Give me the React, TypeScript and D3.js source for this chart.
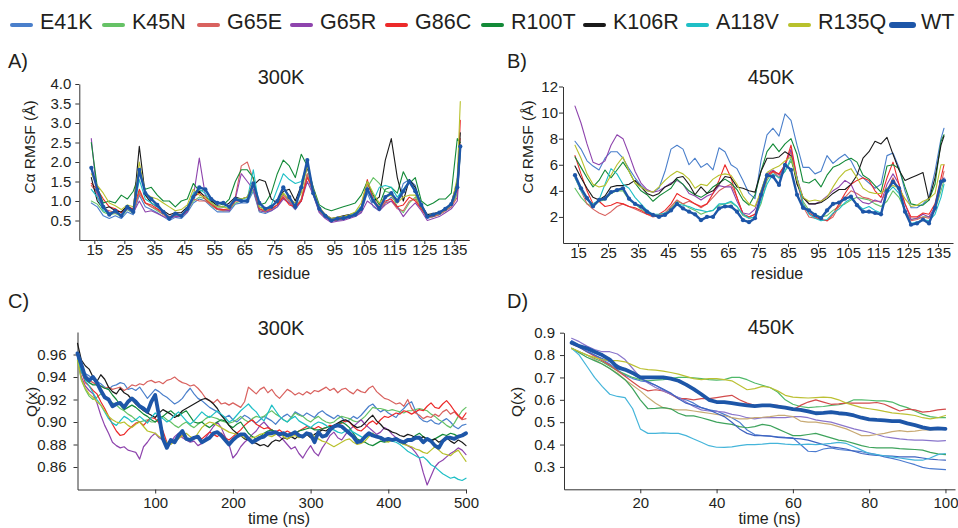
import React, { useEffect, useRef } from "react";
import * as d3 from "d3";

const FONT = '"Liberation Sans", Arial, Helvetica, sans-serif';
const INK = "#231f20";

// ---- series names and colours ----
const SERIES = ["E41K", "K45N", "G65E", "G65R", "G86C", "R100T", "K106R", "A118V", "R135Q", "WT"];
const COLORS = ["#4a7fcb", "#66c266", "#d9625f", "#8e44ad", "#ec2a2a", "#138a38", "#1a1a1a", "#1fbfc6", "#b8c12c", "#1d56a8"];
const COLORS_Q450 = ["#4b7bd0", "#4fb96a", "#d24b4b", "#8a76cc", "#c8aa74", "#3ea35c", "#3f63c0", "#45b5da", "#bcc033", "#1d56a8"];

// legend swatch left edges
const LEGEND_X = [10, 102, 197, 290, 385, 481, 583, 686, 788, 890];

// ---- sampling grids ----
const RESIDUES = [...d3.range(14, 137, 2), 137];
const TIME_300 = d3.range(0, 501, 5);
const TIME_450 = d3.range(2, 101, 2);

// ---- tick values ----
const RES_TICKS = [15, 25, 35, 45, 55, 65, 75, 85, 95, 105, 115, 125, 135];
const RMSF300_TICKS = [0.5, 1, 1.5, 2, 2.5, 3, 3.5, 4];
const RMSF450_TICKS = [2, 4, 6, 8, 10, 12];
const Q300_TICKS = [0.86, 0.88, 0.9, 0.92, 0.94, 0.96];
const T300_TICKS = [100, 200, 300, 400, 500];
const Q450_TICKS = [0.3, 0.4, 0.5, 0.6, 0.7, 0.8, 0.9];
const T450_TICKS = [20, 40, 60, 80, 100];

// ---- Cα RMSF at 300K (Å), per residue ----
const RMSF300_E41K = [0.95,0.85,0.62,0.55,0.62,0.55,0.72,0.65,1.15,0.85, 0.78,0.7,0.6,0.5,0.58,0.55,0.7,0.95,1.05,1.0, 0.85,0.72,0.72,0.72,0.92,0.95,0.95,1.25,0.72,0.68, 0.75,0.85,1.1,0.95,0.78,1.0,1.65,1.15,0.72,0.58, 0.48,0.5,0.52,0.58,0.62,0.72,1.2,0.85,0.75,0.95, 1.1,0.95,1.45,1.55,1.4,0.85,0.55,0.6,0.65,0.75, 0.85,1.2,2.3];
const RMSF300_K45N = [1.0,0.92,0.72,0.65,0.68,0.6,0.78,0.68,1.25,0.95, 0.85,0.75,0.65,0.55,0.62,0.6,0.75,1.0,1.1,1.05, 0.88,0.78,0.75,0.78,0.95,1.0,1.0,1.3,0.75,0.72, 0.78,0.9,1.2,1.0,0.85,1.05,1.7,1.2,0.75,0.6, 0.5,0.52,0.55,0.6,0.65,0.8,1.35,1.6,1.45,1.25, 1.2,0.85,0.7,0.95,1.1,0.8,0.58,0.6,0.65,0.75, 0.85,1.2,2.2];
const RMSF300_G65E = [1.4,1.2,0.8,0.75,0.7,0.65,0.8,0.72,1.2,0.95, 0.85,0.78,0.65,0.55,0.62,0.6,0.75,1.05,1.0,1.0, 0.9,0.78,0.75,0.75,1.1,1.9,2.0,1.55,0.8,0.72, 0.78,0.9,1.15,1.0,0.8,1.05,1.7,1.2,0.75,0.6, 0.5,0.52,0.55,0.6,0.65,0.75,1.45,1.1,0.8,0.95, 1.0,0.8,0.75,1.0,1.05,0.8,0.58,0.6,0.65,0.75, 0.85,1.1,2.6];
const RMSF300_G65R = [2.6,1.1,0.85,0.7,0.7,0.65,0.8,0.7,1.0,0.72, 0.75,0.68,0.6,0.55,0.6,0.6,0.72,1.1,2.1,1.15, 0.95,0.8,0.78,0.75,1.05,1.7,1.5,1.3,0.75,0.72, 0.75,0.85,1.05,0.95,0.8,1.0,1.5,1.15,0.7,0.55, 0.45,0.48,0.5,0.55,0.6,0.7,1.0,0.88,0.75,0.9, 1.0,0.85,0.6,0.8,0.95,0.75,0.5,0.55,0.6,0.7, 0.8,1.0,2.3];
const RMSF300_G86C = [1.45,1.3,1.05,0.85,0.8,0.7,0.85,0.8,1.3,0.95, 0.9,0.8,0.7,0.6,0.65,0.62,0.78,1.1,1.2,1.05, 0.92,0.8,0.78,0.8,1.0,1.0,1.0,1.45,0.8,0.75, 0.8,0.9,1.1,0.9,0.85,1.0,1.6,1.3,0.78,0.6, 0.5,0.52,0.55,0.6,0.65,0.85,1.55,1.0,0.85,1.0, 1.05,0.85,0.9,1.1,1.0,0.8,0.6,0.62,0.7,0.8, 0.9,1.3,3.07];
const RMSF300_R100T = [2.5,1.35,0.95,1.0,0.95,1.15,1.05,1.25,1.7,1.3, 1.35,1.15,1.0,1.0,0.85,1.0,1.05,1.45,1.25,1.3, 1.0,0.95,0.9,1.05,1.5,1.8,1.8,1.6,0.9,0.95, 1.2,1.7,2.05,1.9,1.6,2.2,1.9,1.35,0.9,0.8, 0.75,0.8,0.85,0.9,0.95,1.15,1.5,1.15,0.9,1.3, 1.35,1.2,1.75,1.45,1.6,1.0,0.88,0.95,1.05,1.05, 1.2,2.6,2.5];
const RMSF300_K106R = [1.6,1.0,0.8,0.85,0.75,0.72,0.88,0.75,2.4,1.15, 0.95,0.85,0.75,0.65,0.7,0.7,0.85,1.1,1.25,1.1, 1.0,0.88,0.85,0.95,1.1,1.05,1.1,1.4,1.55,1.5, 1.05,0.95,1.25,1.3,1.0,1.4,1.85,1.3,0.8,0.65, 0.55,0.58,0.62,0.65,0.7,0.85,1.3,1.0,1.1,2.05, 2.6,1.6,1.0,1.55,1.35,0.9,0.65,0.68,0.72,0.8, 0.95,1.5,2.75];
const RMSF300_A118V = [1.3,1.1,0.75,0.7,0.72,0.62,0.82,0.7,1.55,1.05, 0.95,0.85,0.72,0.58,0.65,0.62,0.8,1.2,1.3,1.2, 0.95,0.85,0.85,0.85,1.05,1.05,1.05,1.8,0.85,0.8, 0.9,1.3,1.7,1.55,1.45,1.5,1.95,1.2,0.78,0.6, 0.5,0.55,0.58,0.62,0.7,0.85,1.35,1.0,1.35,1.4, 1.35,1.1,1.3,1.5,1.3,0.9,0.62,0.65,0.72,0.8, 0.92,1.4,2.3];
const RMSF300_R135Q = [1.7,1.4,1.2,0.95,0.88,0.78,0.9,0.85,2.0,1.2, 1.1,1.05,0.95,0.85,0.75,0.78,0.9,1.3,1.15,1.1, 0.95,0.85,0.85,0.8,1.05,1.05,1.1,1.5,0.85,0.75, 0.85,1.0,1.2,1.05,0.95,1.2,1.9,1.3,0.85,0.65, 0.55,0.58,0.6,0.65,0.72,0.95,1.5,1.2,0.95,1.1, 1.15,0.95,1.1,1.15,1.15,0.85,0.62,0.65,0.68,0.78, 0.9,1.6,3.55];
const RMSF300_WT = [1.85,1.3,0.85,0.65,0.75,0.62,0.85,0.72,1.8,1.2, 1.05,0.9,0.72,0.55,0.68,0.62,0.8,1.1,1.35,1.3, 1.05,0.95,0.95,0.85,1.05,1.0,1.0,1.45,0.95,0.8, 0.85,1.0,1.35,1.1,0.85,1.35,2.05,1.2,0.8,0.62, 0.5,0.55,0.56,0.6,0.65,0.8,1.3,1.0,0.8,1.1, 1.2,1.0,1.25,1.5,1.25,0.9,0.6,0.65,0.7,0.8, 0.92,1.35,2.4];

// ---- Cα RMSF at 450K (Å), per residue ----
const RMSF450_E41K = [7.8,7.2,6.3,5.9,5.6,6.5,7.0,7.0,6.5,5.7, 5.0,4.4,4.0,3.9,4.2,5.5,7.2,7.5,7.2,6.0, 6.5,5.8,6.1,5.6,7.3,7.0,6.0,5.7,4.8,3.8, 3.4,6.3,8.3,8.8,8.2,9.9,9.4,7.5,5.8,5.8, 5.3,5.5,6.7,6.1,6.5,6.8,6.3,5.4,5.0,4.6, 4.2,4.5,6.7,6.9,5.8,4.0,2.7,2.7,3.0,3.5, 5.5,8.0,8.8];
const RMSF450_K45N = [4.2,3.5,3.0,2.8,3.2,3.3,3.8,4.0,4.0,3.3, 3.0,2.6,2.3,2.1,2.1,2.3,2.7,3.2,3.0,2.7, 2.5,2.2,2.4,2.5,2.9,3.0,3.1,2.8,2.1,1.9, 2.0,3.0,4.8,5.5,5.0,5.5,6.3,5.0,3.2,2.5, 2.2,2.0,2.1,2.5,2.8,3.0,3.3,3.5,3.4,3.3, 3.0,2.8,3.2,4.0,3.5,2.5,1.8,1.9,2.0,2.0, 2.5,4.0,4.8];
const RMSF450_G65E = [5.0,4.0,3.0,2.6,2.3,2.1,2.4,2.8,3.0,2.8, 2.6,2.4,2.2,2.0,2.1,2.3,2.8,3.3,3.0,3.2, 3.0,2.7,3.0,3.5,4.0,4.3,4.5,3.5,2.2,2.0, 2.2,3.5,5.0,5.5,5.0,6.0,7.0,4.8,2.8,2.0, 1.9,1.8,1.7,2.0,2.8,3.5,4.0,3.8,3.5,3.4, 3.2,3.2,4.0,5.0,4.0,2.5,1.7,1.8,2.0,1.9, 2.5,4.5,5.5];
const RMSF450_G65R = [10.5,9.2,7.6,6.2,6.0,6.3,7.5,8.3,8.0,6.8, 5.5,4.6,4.1,3.9,4.0,4.3,4.6,4.8,4.5,3.8, 3.6,3.3,3.6,3.8,4.4,4.3,4.3,3.2,2.3,2.2, 2.6,4.0,5.3,5.6,5.2,6.0,7.2,5.0,3.5,3.0, 3.0,3.2,3.6,4.0,4.3,4.8,4.5,3.5,3.1,3.0, 3.3,3.1,4.5,5.3,4.5,3.0,1.8,1.9,2.2,2.0, 2.8,4.5,5.0];
const RMSF450_G86C = [6.7,5.3,4.0,3.0,3.2,2.8,2.9,3.1,3.0,2.8, 2.7,2.5,2.2,2.1,2.2,2.5,3.0,3.8,3.5,3.3, 3.0,2.8,3.0,3.8,4.8,6.0,5.0,3.5,2.2,2.0, 2.2,3.5,5.2,5.5,5.3,6.0,7.5,5.0,3.0,2.3, 2.0,1.8,1.7,2.2,3.0,3.8,4.5,4.8,5.0,4.8, 4.0,3.5,5.0,6.2,4.5,3.0,2.0,2.0,2.3,2.2, 3.0,5.0,6.0];
const RMSF450_R100T = [6.6,5.8,5.0,4.3,4.8,5.6,5.0,5.6,6.2,5.5, 4.6,4.0,3.7,3.2,3.6,3.9,4.2,4.9,4.5,4.0, 3.7,3.5,3.8,4.3,4.6,4.9,4.6,4.1,3.3,2.9, 3.7,5.5,7.0,7.6,7.0,7.6,8.0,6.8,4.7,4.6, 4.9,4.3,5.2,5.8,6.0,6.3,6.5,6.2,5.2,4.9, 4.4,3.9,5.9,6.0,5.7,4.3,3.0,2.9,2.9,3.3, 4.5,7.8,8.3];
const RMSF450_K106R = [5.9,5.0,4.2,3.5,3.3,3.6,4.3,4.4,4.4,4.5, 4.8,4.3,3.8,3.6,3.8,4.3,4.5,5.0,5.1,4.5, 3.7,4.3,3.8,4.0,4.5,5.1,5.0,4.3,4.2,4.0, 3.9,5.5,6.5,6.5,6.6,7.0,6.7,4.5,3.5,3.0, 3.0,3.1,3.4,3.8,4.1,4.1,4.5,5.2,6.5,7.0, 7.8,7.6,8.1,6.8,5.6,4.8,5.0,5.2,5.4,3.3, 5.0,7.5,8.2];
const RMSF450_A118V = [5.0,4.0,3.3,3.0,3.3,4.5,5.7,5.3,4.5,4.2, 3.5,3.0,2.5,2.2,2.2,2.3,2.5,3.0,2.9,2.8, 2.6,2.5,2.4,2.5,3.0,3.0,3.2,2.8,2.2,1.9, 2.0,3.2,4.5,5.3,5.0,5.5,6.5,5.0,3.0,2.2, 1.9,1.7,1.8,2.3,2.6,3.1,3.4,3.0,2.6,2.8, 2.5,2.3,3.8,4.3,3.8,2.5,1.5,1.6,1.8,1.7, 2.2,3.5,4.5];
const RMSF450_R135Q = [7.5,6.5,5.3,4.5,4.3,4.4,5.2,6.0,6.6,5.5, 4.6,4.3,4.0,3.9,4.3,4.8,5.2,5.5,5.3,4.9, 4.2,4.5,4.4,4.9,5.2,5.3,5.2,4.5,3.6,3.0, 2.8,4.0,5.4,5.7,5.9,6.3,6.6,4.8,3.5,3.2, 3.3,3.2,3.5,4.3,5.0,5.5,5.7,5.0,4.2,3.9, 3.8,3.8,4.2,4.4,4.2,3.4,2.8,2.9,3.2,3.4, 3.8,6.0,6.0];
const RMSF450_WT = [5.2,4.2,3.45,2.8,3.3,3.4,3.9,4.05,4.2,3.4, 3.0,2.8,2.4,2.15,2.0,2.15,2.5,3.0,2.65,2.4, 2.2,1.75,2.0,2.0,2.65,2.8,2.8,2.4,1.75,1.6, 1.9,3.7,5.2,5.1,4.45,6.0,5.6,3.7,2.7,2.5, 2.15,1.9,2.5,3.0,3.1,3.4,3.55,2.9,2.4,2.4, 2.3,2.2,4.0,4.7,4.2,2.4,1.4,1.5,1.8,1.5, 2.7,4.7,4.8];

// ---- Q(x) at 300K, every 5 ns from 0 to 500 ns ----
const Q300_E41K = [.958,.948,.943,.941,.938,.936,.934,.931,.929,.932, .933,.935,.934,.929,.930,.928,.931,.926,.921,.925, .929,.927,.924,.922,.919,.916,.918,.921,.926,.930, .925,.921,.919,.916,.913,.911,.909,.906,.904,.906, .902,.900,.903,.906,.904,.901,.899,.902,.905,.903, .901,.898,.902,.905,.907,.904,.909,.907,.905,.908, .906,.904,.908,.910,.907,.905,.903,.906,.904,.900, .902,.905,.903,.906,.910,.914,.916,.912,.909,.911, .908,.906,.904,.909,.912,.916,.918,.910,.904,.901, .900,.902,.899,.898,.901,.903,.900,.896,.894,.897, .898];
const Q300_K45N = [.955,.937,.929,.923,.920,.922,.925,.923,.920,.917, .915,.912,.910,.907,.905,.902,.900,.901,.902,.900, .900,.903,.905,.902,.900,.897,.895,.898,.900,.897, .895,.898,.900,.903,.905,.904,.903,.901,.900,.899, .900,.902,.905,.902,.900,.903,.905,.904,.905,.908, .910,.907,.905,.902,.900,.904,.908,.906,.905,.902, .900,.903,.905,.902,.900,.899,.900,.903,.905,.904, .903,.901,.900,.902,.905,.909,.913,.912,.912,.911, .910,.911,.910,.909,.908,.910,.910,.911,.912,.911, .910,.907,.905,.902,.900,.897,.895,.899,.905,.910, .913];
const Q300_G65E = [.960,.950,.942,.937,.935,.933,.932,.930,.931,.929, .930,.931,.928,.930,.933,.932,.934,.933,.936,.937, .935,.936,.934,.937,.938,.940,.937,.935,.934,.932, .933,.930,.926,.921,.919,.917,.920,.916,.917,.915, .917,.915,.913,.918,.931,.928,.925,.929,.931,.926, .929,.924,.921,.925,.929,.927,.924,.926,.924,.927, .925,.928,.927,.929,.931,.928,.930,.926,.929,.930, .927,.925,.929,.927,.926,.930,.932,.927,.924,.921, .920,.918,.916,.917,.914,.920,.912,.908,.906,.903, .905,.904,.907,.905,.909,.911,.907,.909,.905,.902, .903];
const Q300_G65R = [.957,.940,.932,.928,.925,.917,.906,.897,.890,.882, .879,.877,.878,.875,.874,.873,.867,.878,.882,.887, .890,.886,.884,.880,.882,.887,.890,.886,.884,.882, .883,.879,.881,.886,.891,.896,.900,.895,.887,.880, .868,.872,.878,.882,.885,.889,.892,.897,.900,.896, .892,.890,.887,.884,.880,.876,.878,.872,.868,.874, .879,.873,.870,.877,.882,.888,.891,.886,.884,.889, .893,.896,.899,.902,.898,.895,.892,.889,.891,.895, .893,.889,.886,.884,.881,.879,.877,.873,.868,.855, .844,.852,.860,.864,.866,.869,.872,.874,.877,.875, .871];
const Q300_G86C = [.958,.945,.935,.932,.928,.925,.918,.912,.905,.898, .892,.888,.889,.893,.896,.899,.900,.897,.901,.904, .903,.899,.892,.882,.881,.884,.886,.888,.885,.883, .886,.887,.885,.888,.891,.889,.887,.890,.886,.884, .887,.890,.893,.897,.900,.902,.898,.896,.894,.895, .893,.891,.893,.890,.892,.890,.889,.892,.894,.896, .895,.894,.896,.894,.895,.897,.896,.898,.899,.901, .900,.896,.893,.892,.895,.899,.901,.898,.902,.905, .904,.906,.908,.907,.910,.909,.907,.909,.911,.910, .914,.917,.913,.912,.916,.919,.915,.910,.906,.903, .908];
const Q300_R100T = [.956,.945,.938,.935,.933,.933,.932,.930,.929,.924, .920,.915,.911,.913,.915,.913,.910,.907,.905,.902, .900,.903,.905,.908,.910,.907,.905,.908,.910,.905, .900,.899,.900,.897,.895,.898,.900,.902,.901,.897, .895,.898,.900,.895,.890,.887,.885,.887,.890,.892, .893,.891,.890,.888,.888,.889,.890,.892,.893,.894, .895,.893,.893,.894,.895,.896,.895,.897,.900,.898, .895,.890,.885,.883,.882,.880,.879,.881,.883,.882, .883,.884,.885,.882,.880,.883,.885,.888,.890,.887, .885,.884,.885,.887,.889,.888,.890,.889,.887,.888, .889];
const Q300_K106R = [.970,.955,.950,.947,.940,.936,.942,.938,.931,.927, .925,.930,.926,.924,.920,.916,.913,.910,.908,.906, .904,.908,.911,.909,.907,.904,.906,.910,.912,.914, .916,.918,.920,.921,.919,.916,.912,.906,.902,.897, .893,.890,.888,.885,.884,.882,.881,.879,.880,.878, .882,.884,.883,.886,.885,.887,.885,.888,.886,.889, .886,.889,.891,.893,.892,.895,.897,.899,.901,.902, .900,.897,.895,.896,.899,.903,.906,.901,.898,.894, .893,.891,.890,.888,.887,.889,.888,.886,.885,.887, .884,.883,.885,.882,.884,.886,.883,.881,.884,.882, .879];
const Q300_A118V = [.956,.945,.937,.932,.926,.920,.915,.909,.903,.899, .897,.901,.905,.903,.900,.902,.905,.902,.899,.904, .908,.905,.903,.900,.902,.906,.909,.905,.901,.898, .901,.905,.909,.906,.904,.907,.910,.907,.904,.900, .902,.906,.910,.913,.916,.912,.909,.904,.901,.908, .915,.910,.905,.902,.900,.903,.905,.901,.899,.897, .895,.898,.900,.899,.897,.894,.893,.891,.890,.892, .893,.891,.889,.887,.885,.888,.890,.887,.885,.884, .885,.883,.882,.880,.877,.874,.872,.870,.868,.869, .866,.862,.860,.857,.854,.852,.850,.851,.849,.848, .850];
const Q300_R135Q = [.955,.938,.930,.925,.922,.918,.915,.910,.905,.902, .900,.899,.900,.897,.895,.898,.900,.896,.892,.891, .890,.887,.885,.882,.880,.883,.885,.888,.890,.887, .885,.890,.895,.898,.900,.899,.897,.895,.893,.891, .890,.889,.888,.886,.885,.886,.887,.889,.890,.888, .887,.889,.890,.887,.885,.887,.888,.886,.887,.889, .890,.887,.885,.883,.882,.880,.878,.880,.882,.884, .885,.882,.880,.881,.883,.887,.890,.887,.885,.883, .882,.884,.885,.882,.880,.879,.878,.876,.875,.873, .872,.875,.878,.875,.872,.871,.870,.873,.875,.870, .865];
const Q300_WT = [.961,.951,.940,.937,.940,.935,.928,.922,.920,.914, .916,.917,.913,.918,.921,.918,.914,.912,.909,.918, .924,.905,.885,.877,.884,.882,.888,.892,.885,.884, .886,.887,.882,.884,.886,.890,.891,.888,.884,.880, .884,.887,.889,.889,.885,.882,.884,.886,.887,.890, .890,.891,.889,.890,.888,.889,.891,.888,.887,.890, .889,.882,.891,.887,.888,.893,.896,.897,.896,.893, .890,.887,.882,.883,.887,.890,.888,.887,.886,.884, .885,.884,.885,.883,.882,.884,.884,.886,.886,.882, .885,.883,.879,.877,.883,.886,.886,.885,.887,.888, .890];

// ---- Q(x) at 450K, every 2 ns from 2 to 100 ns ----
const Q450_E41K = [.865,.845,.82,.80,.78,.76,.735,.71,.695,.685, .68,.665,.645,.625,.61,.60,.585,.565,.555,.55, .535,.52,.50,.465,.445,.44,.438,.435,.432,.43, .40,.37,.368,.38,.385,.378,.375,.372,.368,.362, .355,.345,.338,.33,.32,.31,.298,.292,.29,.288];
const Q450_K45N = [.83,.815,.80,.785,.77,.75,.73,.715,.70,.69, .685,.688,.69,.695,.70,.70,.698,.695,.69,.688, .69,.70,.70,.69,.675,.665,.655,.635,.60,.58, .57,.565,.568,.57,.575,.578,.585,.60,.60,.598, .595,.595,.59,.575,.565,.55,.535,.525,.52,.52];
const Q450_G65E = [.85,.835,.815,.795,.775,.755,.73,.705,.68,.655, .64,.645,.64,.625,.605,.605,.60,.605,.605,.61, .615,.62,.60,.585,.575,.575,.578,.575,.565,.555, .575,.59,.60,.59,.58,.582,.585,.585,.585,.585, .588,.58,.565,.55,.558,.555,.545,.548,.555,.558];
const Q450_G65R = [.875,.86,.84,.825,.815,.815,.805,.78,.74,.70, .675,.655,.64,.625,.61,.59,.57,.555,.55,.548, .545,.535,.53,.52,.515,.52,.52,.52,.52,.525, .525,.52,.51,.505,.50,.49,.48,.47,.462,.455, .445,.435,.43,.425,.422,.42,.42,.418,.415,.418];
const Q450_G86C = [.83,.815,.80,.78,.76,.74,.72,.69,.665,.64, .61,.585,.565,.558,.555,.555,.55,.545,.54,.535, .53,.52,.515,.515,.52,.522,.525,.53,.53,.525, .505,.50,.50,.495,.49,.48,.47,.455,.44,.44, .445,.45,.458,.462,.458,.46,.465,.465,.468,.47];
const Q450_R100T = [.83,.81,.79,.775,.76,.74,.715,.69,.65,.60, .56,.562,.565,.56,.54,.528,.528,.52,.51,.50, .495,.49,.48,.475,.48,.49,.485,.47,.455,.44, .44,.445,.45,.44,.43,.42,.415,.405,.395,.388, .385,.385,.385,.382,.38,.378,.375,.365,.358,.355];
const Q450_K106R = [.855,.835,.815,.80,.785,.77,.755,.735,.715,.695, .68,.665,.648,.63,.605,.585,.575,.565,.555,.54, .525,.50,.47,.45,.44,.44,.438,.432,.43,.428, .425,.42,.41,.40,.39,.385,.38,.37,.36,.355, .352,.35,.348,.345,.345,.345,.34,.335,.332,.33];
const Q450_A118V = [.83,.80,.75,.70,.66,.625,.615,.61,.56,.47, .45,.45,.452,.45,.45,.44,.425,.41,.395,.388, .387,.39,.395,.40,.40,.402,.405,.405,.402,.40, .40,.402,.40,.402,.405,.41,.405,.39,.375,.36, .355,.35,.345,.34,.335,.33,.33,.34,.355,.36];
const Q450_R135Q = [.83,.815,.80,.79,.78,.775,.775,.77,.755,.74, .735,.733,.728,.722,.715,.705,.695,.69,.695,.695, .69,.685,.665,.645,.65,.66,.655,.64,.62,.612, .61,.608,.61,.612,.61,.60,.585,.575,.565,.56, .555,.548,.542,.538,.535,.53,.52,.515,.52,.53];
const Q450_WT = [.855,.84,.83,.815,.80,.78,.745,.735,.72,.70, .70,.70,.70,.695,.685,.668,.648,.625,.60,.59, .59,.585,.58,.575,.572,.575,.575,.57,.565,.558, .555,.548,.54,.542,.545,.54,.537,.53,.52,.513, .51,.508,.505,.505,.495,.487,.477,.47,.472,.47];

const RMSF300 = [RMSF300_E41K, RMSF300_K45N, RMSF300_G65E, RMSF300_G65R, RMSF300_G86C, RMSF300_R100T, RMSF300_K106R, RMSF300_A118V, RMSF300_R135Q, RMSF300_WT];
const RMSF450 = [RMSF450_E41K, RMSF450_K45N, RMSF450_G65E, RMSF450_G65R, RMSF450_G86C, RMSF450_R100T, RMSF450_K106R, RMSF450_A118V, RMSF450_R135Q, RMSF450_WT];
const Q300 = [Q300_E41K, Q300_K45N, Q300_G65E, Q300_G65R, Q300_G86C, Q300_R100T, Q300_K106R, Q300_A118V, Q300_R135Q, Q300_WT];
const Q450 = [Q450_E41K, Q450_K45N, Q450_G65E, Q450_G65R, Q450_G86C, Q450_R100T, Q450_K106R, Q450_A118V, Q450_R135Q, Q450_WT];

type AxisSpec = { domain: [number, number]; range: [number, number]; ticks: number[]; fmt: (v: number) => string; pad: number };
type PanelSpec = {
  letter: string; letterPos: [number, number];
  title: string; titlePos: [number, number];
  x: AxisSpec; y: AxisSpec;
  xLabel: string; xLabelPos: [number, number];
  yLabel: string; yLabelPos: [number, number];
  xs: number[]; ys: number[][]; colors: string[];
  markers: boolean; lineWidth: number; wtWidth: number;
};

const fmtInt = d3.format("d");
const fmt1 = d3.format(".1f");
const fmt2 = d3.format(".2f");

const PANELS: PanelSpec[] = [
  {
    letter: "A)", letterPos: [8, 68], title: "300K", titlePos: [281, 83.5],
    x: { domain: [10, 140], range: [79.3, 469.3], ticks: RES_TICKS, fmt: fmtInt, pad: 0 },
    y: { domain: [0, 4], range: [240, 84], ticks: RMSF300_TICKS, fmt: fmt1, pad: 4 },
    xLabel: "residue", xLabelPos: [284, 279], yLabel: "Cα RMSF (Å)", yLabelPos: [35, 147],
    xs: RESIDUES, ys: RMSF300, colors: COLORS, markers: true, lineWidth: 1.1, wtWidth: 2.4,
  },
  {
    letter: "B)", letterPos: [507, 68], title: "450K", titlePos: [771, 83.5],
    x: { domain: [10, 140], range: [563, 953], ticks: RES_TICKS, fmt: fmtInt, pad: 0 },
    y: { domain: [0, 12], range: [243, 86.5], ticks: RMSF450_TICKS, fmt: fmtInt, pad: 1 },
    xLabel: "residue", xLabelPos: [777, 279], yLabel: "Cα RMSF (Å)", yLabelPos: [533, 147],
    xs: RESIDUES, ys: RMSF450, colors: COLORS, markers: true, lineWidth: 1.1, wtWidth: 2.4,
  },
  {
    letter: "C)", letterPos: [8, 308], title: "300K", titlePos: [281, 335],
    x: { domain: [0, 500], range: [77.5, 466], ticks: T300_TICKS, fmt: fmtInt, pad: 4 },
    y: { domain: [0.84, 0.98], range: [489.5, 332], ticks: Q300_TICKS, fmt: fmt2, pad: 7 },
    xLabel: "time (ns)", xLabelPos: [279, 524], yLabel: "Q(x)", yLabelPos: [37, 402],
    xs: TIME_300, ys: Q300, colors: COLORS, markers: false, lineWidth: 1.2, wtWidth: 3.8,
  },
  {
    letter: "D)", letterPos: [507, 308], title: "450K", titlePos: [771, 333.5],
    x: { domain: [0, 102.5], range: [564, 955], ticks: T450_TICKS, fmt: fmtInt, pad: 4 },
    y: { domain: [0.2, 0.9], range: [489.3, 332.7], ticks: Q450_TICKS, fmt: fmt1, pad: 5 },
    xLabel: "time (ns)", xLabelPos: [769.5, 524], yLabel: "Q(x)", yLabelPos: [522, 402],
    xs: TIME_450, ys: Q450, colors: COLORS_Q450, markers: false, lineWidth: 1.2, wtWidth: 3.8,
  },
];

function drawPanel(root: d3.Selection<SVGGElement, unknown, null, undefined>, p: PanelSpec) {
  const g = root.append("g");
  const x = d3.scaleLinear().domain(p.x.domain).range(p.x.range);
  const y = d3.scaleLinear().domain(p.y.domain).range(p.y.range);

  const xAxis = d3.axisBottom(x).tickValues(p.x.ticks).tickSize(4).tickSizeOuter(0)
    .tickPadding(p.x.pad).tickFormat((d) => p.x.fmt(d as number));
  const yAxis = d3.axisLeft(y).tickValues(p.y.ticks).tickSize(4).tickSizeOuter(0)
    .tickPadding(p.y.pad).tickFormat((d) => p.y.fmt(d as number));

  const gx = g.append("g").attr("transform", `translate(0,${p.y.range[0]})`).call(xAxis);
  const gy = g.append("g").attr("transform", `translate(${p.x.range[0]},0)`).call(yAxis);
  [gx, gy].forEach((a) => {
    a.select(".domain").attr("stroke", "#333").attr("stroke-width", 1);
    a.selectAll(".tick line").attr("stroke", "#333");
    a.selectAll(".tick text").attr("fill", INK).style("font-family", FONT).style("font-size", "15px");
  });

  const line = d3.line<number>()
    .defined((d) => d != null && !isNaN(d))
    .x((_, i) => x(p.xs[i]))
    .y((d) => y(d));

  p.ys.forEach((vals, si) => {
    const isWT = SERIES[si] === "WT";
    g.append("path")
      .datum(vals)
      .attr("d", line)
      .attr("fill", "none")
      .attr("stroke", p.colors[si])
      .attr("stroke-width", isWT ? p.wtWidth : p.lineWidth)
      .attr("stroke-linejoin", "round")
      .attr("stroke-linecap", "round");
    if (isWT && p.markers) {
      g.append("g").selectAll("circle")
        .data(vals)
        .join("circle")
        .attr("cx", (_, i) => x(p.xs[i]))
        .attr("cy", (d) => y(d))
        .attr("r", 2.1)
        .attr("fill", p.colors[si]);
    }
  });

  const txt = (s: string, px: number, py: number, size: number, anchor: string) =>
    g.append("text").attr("x", px).attr("y", py).attr("text-anchor", anchor)
      .attr("fill", INK).style("font-family", FONT).style("font-size", `${size}px`).text(s);

  txt(p.letter, p.letterPos[0], p.letterPos[1], 20, "start");
  txt(p.title, p.titlePos[0], p.titlePos[1], 20, "middle");
  txt(p.xLabel, p.xLabelPos[0], p.xLabelPos[1], 16, "middle");
  g.append("text")
    .attr("transform", `translate(${p.yLabelPos[0]},${p.yLabelPos[1]}) rotate(-90)`)
    .attr("text-anchor", "middle").attr("fill", INK)
    .style("font-family", FONT).style("font-size", "15.5px")
    .text(p.yLabel);
}

function drawLegend(root: d3.Selection<SVGGElement, unknown, null, undefined>) {
  const g = root.append("g");
  SERIES.forEach((name, i) => {
    const isWT = name === "WT";
    const x0 = LEGEND_X[i];
    g.append("line")
      .attr("x1", x0 + 2).attr("x2", x0 + (isWT ? 23 : 21))
      .attr("y1", 25).attr("y2", 25)
      .attr("stroke", COLORS[i]).attr("stroke-width", isWT ? 6 : 4)
      .attr("stroke-linecap", "round");
    g.append("text")
      .attr("x", x0 + (isWT ? 31 : 30)).attr("y", 29)
      .attr("fill", INK).style("font-family", FONT).style("font-size", "21.5px")
      .text(name);
  });
}

export default function App() {
  const ref = useRef<SVGSVGElement>(null);
  useEffect(() => {
    if (!ref.current) return;
    const svg = d3.select(ref.current);
    svg.selectAll("*").remove();
    const root = svg.append("g");
    drawLegend(root);
    PANELS.forEach((p) => drawPanel(root, p));
  }, []);
  return (
    <svg
      ref={ref}
      width={958}
      height={528}
      viewBox="0 0 958 528"
      style={{ position: "absolute", left: 0, top: 0, background: "#fff", display: "block" }}
    />
  );
}
